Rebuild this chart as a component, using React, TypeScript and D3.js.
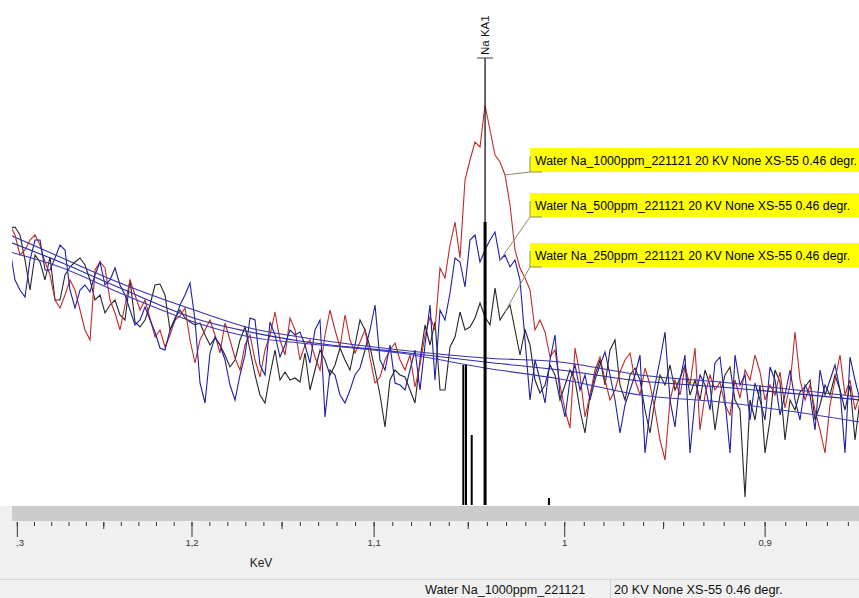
import React from "react";
import * as d3 from "d3";

// Canvas
const W = 859;
const H = 598;
const PLOT_LEFT = 12;
const PLOT_BOTTOM = 505;

// Goniometer scan: 171 steps, equally spaced in sqrt(energy)
const CHANNELS = 171;
const E_FIRST = 1.30428; // keV at first step
const E_LAST = 0.85448; // keV at last step
const X_DOMAIN = [1.30311, 0.85496];

// Measured intensities (counts) per step
const NA_1000PPM = [
  280, 270, 250, 255, 265, 270, 260, 243, 230, 205,
  197, 210, 225, 215, 195, 175, 165, 235, 243, 237,
  205, 192, 175, 200, 225, 210, 195, 205, 187, 168,
  175, 158, 170, 185, 189, 197, 165, 142, 165, 175,
  185, 170, 152, 182, 165, 147, 135, 160, 170, 145,
  128, 155, 170, 193, 165, 150, 187, 175, 145, 160,
  165, 148, 135, 170, 195, 175, 158, 190, 165, 152,
  163, 175, 147, 122, 128, 145, 155, 162, 145, 135,
  150, 118, 140, 170, 188, 175, 237, 227, 260, 283,
  247, 325, 345, 363, 358, 400, 375, 350, 343, 330,
  300, 255, 237, 227, 215, 175, 185, 173, 148, 155,
  120, 95, 77, 157, 130, 88, 110, 135, 148, 125,
  105, 115, 133, 145, 152, 125, 110, 137, 120, 95,
  65, 45, 105, 125, 110, 138, 120, 157, 75, 110,
  130, 115, 123, 100, 90, 125, 107, 135, 125, 150,
  133, 105, 120, 110, 133, 97, 120, 173, 125, 105,
  120, 95, 75, 52, 100, 125, 150, 110, 125, 95, 110,
];

const NA_500PPM = [
  255, 225, 215, 208, 245, 265, 265, 235, 235, 247,
  260, 255, 215, 197, 215, 220, 213, 230, 243, 220,
  225, 237, 220, 210, 195, 180, 185, 198, 185, 173,
  157, 155, 175, 185, 200, 210, 222, 185, 122, 102,
  152, 168, 160, 145, 120, 105, 130, 150, 187, 185,
  140, 130, 183, 170, 148, 160, 175, 170, 173, 160,
  142, 175, 185, 88, 135, 130, 110, 102, 115, 130,
  137, 155, 175, 200, 145, 135, 160, 122, 120, 115,
  135, 155, 115, 160, 200, 125, 195, 185, 212, 247,
  243, 218, 265, 270, 243, 255, 265, 273, 245, 250,
  238, 245, 225, 165, 105, 145, 125, 102, 145, 170,
  110, 88, 125, 140, 115, 130, 105, 125, 140, 153,
  130, 105, 72, 100, 115, 130, 150, 52, 95, 120,
  145, 173, 105, 78, 125, 150, 52, 105, 130, 120,
  95, 142, 148, 105, 52, 150, 120, 130, 85, 122,
  105, 85, 138, 125, 90, 110, 135, 105, 85, 120,
  110, 75, 135, 110, 125, 140, 115, 52, 148, 125, 105,
];

const NA_250PPM = [
  277, 278, 270, 245, 215, 250, 243, 225, 248, 205,
  205, 230, 238, 243, 247, 240, 225, 205, 210, 192,
  200, 205, 190, 185, 225, 183, 178, 185, 200, 220,
  221, 210, 175, 187, 195, 187, 183, 180, 182, 170,
  160, 167, 160, 150, 138, 145, 165, 178, 155, 130,
  110, 102, 130, 155, 125, 133, 125, 127, 123, 152,
  115, 135, 155, 145, 130, 140, 157, 145, 135, 160,
  185, 175, 158, 135, 110, 78, 125, 135, 130, 128,
  115, 102, 145, 180, 160, 183, 115, 115, 158, 168,
  193, 175, 178, 187, 202, 188, 180, 217, 185, 193,
  200, 175, 150, 175, 160, 125, 112, 120, 140, 130,
  105, 120, 135, 125, 95, 72, 110, 130, 145, 120,
  155, 165, 120, 105, 130, 137, 125, 95, 72, 105,
  130, 120, 140, 115, 127, 140, 110, 125, 105, 135,
  120, 75, 110, 130, 138, 105, 95, 8, 105, 85,
  120, 52, 85, 135, 123, 65, 105, 95, 113, 118,
  125, 85, 100, 120, 110, 130, 115, 95, 120, 65, 105,
];

// Fitted backgrounds, sampled at a few steps
const BG_STEPS = [0, 10, 22, 38, 48, 58, 78, 95, 110, 126, 142, 170];
const BG_1000PPM = [270, 248, 222, 193, 177, 168, 155, 147, 143, 130, 123, 108];
const BG_500PPM = [263, 243, 217, 185, 173, 164, 153, 143, 135, 124, 118, 105];
const BG_250PPM = [253, 238, 212, 181, 168, 162, 152, 137, 126, 110, 103, 83];

// Line markers (KLM): energy and relative height in counts
const LINE_KEV = [1.0412, 1.0526, 1.0512, 1.0482, 1.0081];
const LINE_COUNTS = [283, 140, 140, 70, 7];
const LINE_WIDTHS = [3, 2, 2, 2, 2];
const MAIN_LINE_NAME = "Na KA1";

// Axis
const MAJOR_TICKS = [1.3, 1.2, 1.1, 1.0, 0.9];
const MAJOR_LABELS = ["1,3", "1,2", "1,1", "1", "0,9"];
const HALF_TICKS = [1.25, 1.15, 1.05, 0.95];
const AXIS_TITLE = "KeV";

// Series labels
const SERIES_NAMES = [
  "Water Na_1000ppm_221121 20 KV None XS-55 0.46 degr.",
  "Water Na_500ppm_221121 20 KV None XS-55 0.46 degr.",
  "Water Na_250ppm_221121 20 KV None XS-55 0.46 degr.",
];
const SERIES_COLORS = ["#c22a2a", "#1e1ea6", "#262626"];
const BG_COLORS = ["#3a32a8", "#2a2aa6", "#3c3cb4"];
const CALLOUT_STEPS = [99, 98, 99];
const CALLOUT_TOPS = [148, 193, 243];

const STATUS_SAMPLE = "Water Na_1000ppm_221121";
const STATUS_CONDITIONS = "20 KV None XS-55 0.46 degr.";

const FONT = "'Liberation Sans', Arial, sans-serif";

export default function App() {
  const x = d3.scalePow().exponent(0.5).domain(X_DOMAIN).range([PLOT_LEFT, W]);
  const y = d3.scaleLinear().domain([0, 500]).range([PLOT_BOTTOM, 5]);

  const s0 = Math.sqrt(E_FIRST);
  const s1 = Math.sqrt(E_LAST);
  const energy = d3.range(CHANNELS).map((i) => {
    const s = s0 + ((s1 - s0) * i) / (CHANNELS - 1);
    return s * s;
  });

  const spectrum = d3
    .line<number>()
    .x((_, i) => x(energy[i]))
    .y((d) => y(d));

  const bgLine = d3
    .line<[number, number]>()
    .x((d) => x(energy[d[0]]))
    .y((d) => y(d[1]))
    .curve(d3.curveMonotoneX);

  const series = [NA_1000PPM, NA_500PPM, NA_250PPM];
  const backgrounds = [BG_1000PPM, BG_500PPM, BG_250PPM];

  const minorTicks = d3.range(86, 131).map((v) => v / 100);

  const mainX = x(LINE_KEV[0]);
  const boxLeft = 530;
  const boxH = 24;

  return (
    <svg
      width={W}
      height={H}
      style={{ position: "absolute", left: 0, top: 0, fontFamily: FONT }}
    >
      <defs>
        <clipPath id="plot-clip">
          <rect x={PLOT_LEFT} y={0} width={W - PLOT_LEFT} height={PLOT_BOTTOM} />
        </clipPath>
        <clipPath id="axis-clip">
          <rect x={16} y={500} width={W - 16} height={60} />
        </clipPath>
      </defs>

      <rect x={0} y={0} width={W} height={H} fill="#f0f0f0" />
      <rect x={0} y={0} width={W} height={PLOT_BOTTOM + 1} fill="#ffffff" />

      {/* spectra */}
      <g clipPath="url(#plot-clip)" fill="none">
        {[2, 0, 1].map((k) => (
          <path
            key={"s" + k}
            d={spectrum(series[k]) || ""}
            stroke={SERIES_COLORS[k]}
            strokeWidth={1.1}
          />
        ))}
        {backgrounds.map((bg, k) => (
          <path
            key={"b" + k}
            d={bgLine(BG_STEPS.map((st, j) => [st, bg[j]] as [number, number])) || ""}
            stroke={BG_COLORS[k]}
            strokeWidth={1.1}
          />
        ))}

        {/* line markers */}
        <line x1={mainX} x2={mainX} y1={58} y2={PLOT_BOTTOM} stroke="#2a2a2a" strokeWidth={1.4} />
        {LINE_KEV.map((e, k) => (
          <line
            key={"m" + k}
            x1={x(e)}
            x2={x(e)}
            y1={y(LINE_COUNTS[k])}
            y2={PLOT_BOTTOM}
            stroke="#000"
            strokeWidth={LINE_WIDTHS[k]}
          />
        ))}
      </g>

      {/* line label */}
      <line x1={mainX - 8} x2={mainX + 8} y1={58} y2={58} stroke="#3a3a3a" strokeWidth={1} />
      <text
        transform={`translate(${mainX + 4},${55}) rotate(-90)`}
        fontSize={11.5}
        fill="#111"
      >
        {MAIN_LINE_NAME}
      </text>

      {/* callouts */}
      {SERIES_NAMES.map((name, k) => {
        const top = CALLOUT_TOPS[k];
        const bottom = top + boxH;
        const st = CALLOUT_STEPS[k];
        const px = x(energy[st]);
        const py = y(series[k][st]);
        return (
          <g key={"c" + k}>
            <line x1={boxLeft} y1={bottom} x2={px} y2={py} stroke="#8c8c6a" strokeWidth={1} />
            <rect x={boxLeft} y={top} width={W - boxLeft + 10} height={boxH} fill="#ffff00" />
            <polyline
              points={`${boxLeft},${top + 8} ${boxLeft},${bottom} ${boxLeft + 12},${bottom}`}
              fill="none"
              stroke="#8c8c6a"
              strokeWidth={1}
            />
            <text x={boxLeft + 5} y={top + 17} fontSize={12.3} fill="#000">
              {name}
            </text>
          </g>
        );
      })}

      {/* axis band */}
      <rect x={PLOT_LEFT} y={506} width={W - PLOT_LEFT} height={15} fill="#cbcbcb" />
      <g stroke="#333" strokeWidth={1}>
        {minorTicks.map((v) => (
          <line key={"t" + v} x1={x(v)} x2={x(v)} y1={522} y2={526} />
        ))}
        {HALF_TICKS.map((v) => (
          <line key={"h" + v} x1={x(v)} x2={x(v)} y1={522} y2={529} />
        ))}
        {MAJOR_TICKS.map((v) => (
          <line key={"M" + v} x1={x(v)} x2={x(v)} y1={522} y2={537} />
        ))}
      </g>
      <g clipPath="url(#axis-clip)">
        {MAJOR_TICKS.map((v, k) => (
          <text
            key={"l" + v}
            x={x(v)}
            y={546}
            fontSize={9.5}
            textAnchor="middle"
            fill="#333"
          >
            {MAJOR_LABELS[k]}
          </text>
        ))}
      </g>
      <text x={261} y={567} fontSize={12} textAnchor="middle" fill="#222">
        {AXIS_TITLE}
      </text>

      {/* status bar */}
      <line x1={0} x2={W} y1={579.5} y2={579.5} stroke="#d9d9d9" />
      <line x1={610.5} x2={610.5} y1={580} y2={H} stroke="#d0d0d0" />
      <text x={425} y={594} fontSize={12.6} fill="#111">
        {STATUS_SAMPLE}
      </text>
      <text x={614} y={594} fontSize={12.8} fill="#111">
        {STATUS_CONDITIONS}
      </text>
    </svg>
  );
}
